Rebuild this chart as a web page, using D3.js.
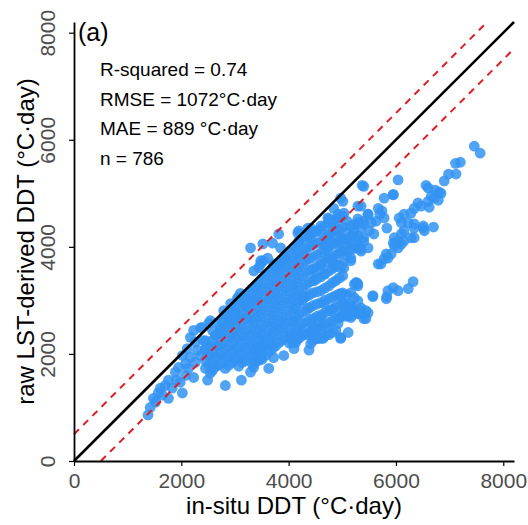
<!DOCTYPE html>
<html>
<head>
<meta charset="utf-8">
<script src="https://cdn.jsdelivr.net/npm/d3@7"></script>
<style>
  body { margin: 0; background: #fff; }
  svg { display: block; font-family: "Liberation Sans", Arial, sans-serif; }
</style>
</head>
<body>
<div id="chart"></div>
<script>
// (a) raw LST-derived DDT vs in-situ DDT
const xTicks = [0, 2000, 4000, 6000, 8000];
const yTicks = [0, 2000, 4000, 6000, 8000];
const stats = ["R-squared = 0.74", "RMSE = 1072°C·day", "MAE = 889 °C·day", "n = 786"];
const bandOffset = 500; // lignes rouges : 1:1 ± 500

// queue en bas à gauche
const tailPts = [
  [1380,860],[1420,1000],[1480,1170],[1570,1270],[1610,1360],[1700,1410],[1760,1510],[1760,1170],
  [1890,1660],[1950,1750],[2020,1270],[2080,1820],[2170,1940],[2300,2070],[2230,1560],[2490,1510],
  [2540,1640],[2170,2310],[2230,2440],[2360,2490],[2390,2490],[2510,2570],[2540,2620],[2790,2810],
  [2920,2940],[3100,3130],[3050,3050],[2820,1410],[3120,1510],[1520,1100],[1650,1230],[1830,1360],
  [1980,1470],[2080,1600],[1910,1510],[2130,1730],[2260,1840],[2360,1970],[2450,2100],[2020,1970],
  [2110,2100],[2260,2220],[2410,2250],[2640,2350],[2730,2470],[2880,2620],[3010,2770],[3200,2900],
  [3290,3000]
];

// bord supérieur, autour de la 1:1
const edgePts = [
  [3290,3980],[3520,4055],[3815,4240],[4170,4260],[4410,4350],[3440,3610],[3530,3740],[3700,4070],
  [3480,3680],[3350,3550],[3050,3030],
  [4190,4300],[4360,4350],[4600,4390],[4750,4520],[4920,4610],[5030,4630],[5290,4760],[5390,4480],
  [5480,4610],[5310,4020],[5250,3330],
  [3480,3740],[3610,3790],[3850,3980],[3910,3790],[3720,3680],
  [4190,4110],[4410,4170],[4540,4300],[4730,4200],[4840,4300],[4970,4170],[5100,4110],[5220,4300],
  [4730,3980],[4970,3920],[5160,3790],[4840,3680],[5030,3610],[4660,3500],[4470,3370]
];

// coeur dense du nuage
const corePts = [
  [2450,2250],[2450,2065],[2450,1880],[2450,1730],
  [2580,2440],[2580,2250],[2580,2030],[2580,1840],[2580,1690],
  [2690,2590],[2690,2380],[2690,2160],[2690,1970],[2690,1790],
  [2820,2720],[2820,2510],[2820,2290],[2820,2100],[2820,1920],[2820,1730],
  [2950,2810],[2950,2620],[2950,2400],[2950,2210],[2950,2030],[2950,1840],
  [3070,2960],[3070,2730],[3070,2530],[3070,2330],[3070,2120],[3070,1930],[3070,1770],
  [3200,3090],[3200,2880],[3200,2660],[3200,2440],[3200,2250],[3200,2070],[3200,1880],
  [3330,3220],[3330,3000],[3330,2770],[3330,2590],[3330,2360],[3330,2160],[3330,1970],[3330,1790],
  [3440,3330],[3440,3120],[3440,2900],[3440,2700],[3440,2470],[3440,2290],[3440,2070],[3440,1880],
  [3570,3460],[3570,3240],[3570,3030],[3570,2810],[3570,2590],[3570,2380],[3570,2190],[3570,1970],
  [3700,3590],[3700,3370],[3700,3140],[3700,2940],[3700,2720],[3700,2510],[3700,2310],[3700,2100],
  [3820,3700],[3820,3500],[3820,3270],[3820,3050],[3820,2850],[3820,2620],[3820,2440],[3820,2210],
  [3950,3830],[3950,3630],[3950,3400],[3950,3180],[3950,2960],[3950,2730],[3950,2530],[3950,2330],
  [4080,3960],[4080,3740],[4080,3520],[4080,3290],[4080,3070],[4080,2850],[4080,2620],[4080,2400],[4080,2210],
  [4190,4070],[4190,3850],[4190,3630],[4190,3400],[4190,3180],[4190,2960],[4190,2730],[4190,2510],[4190,2290],
  [4320,4190],[4320,3960],[4320,3740],[4320,3520],[4320,3290],[4320,3070],[4320,2810],[4320,2590],[4320,2360],
  [4450,4260],[4450,4040],[4450,3810],[4450,3590],[4450,3370],[4450,3140],[4450,2900],[4450,2660],[4450,2440],[4450,2250],
  [4600,4330],[4600,4110],[4600,3890],[4600,3660],[4600,3440],[4600,3180],[4600,2960],[4600,2730],[4600,2510],[4600,2290],
  [4750,4450],[4750,4220],[4750,4000],[4750,3780],[4750,3550],[4750,3270],[4750,3030],[4750,2810],[4750,2590],[4750,2360],
  [4880,4520],[4880,4300],[4880,4070],[4880,3850],[4880,3630],[4880,3370],[4880,3090],[4880,2880],[4880,2660],[4880,2440],
  [5010,4580],[5010,4370],[5010,4150],[5010,3920],[5010,3700],[5010,3460],[5010,3140],[5010,2940],[5010,2730],
  [5160,4390],[5160,4190],[5160,3960],[5160,3740],[5160,3140],[5160,2900],[5160,2720],
  [5290,4450],[5290,4200],[5290,3980],[5290,3270],[5290,2990],[5290,2770]
];

// points intercalés du coeur
const coreFillPts = [
  [2515,2160],[2515,1970],[2515,1790],
  [2635,2340],[2635,2140],[2635,1940],[2635,1760],
  [2755,2620],[2755,2400],[2755,2200],[2755,2010],[2755,1830],
  [2885,2760],[2885,2540],[2885,2330],[2885,2140],[2885,1960],[2885,1790],
  [3010,2880],[3010,2680],[3010,2480],[3010,2290],[3010,2090],[3010,1900],
  [3135,3020],[3135,2810],[3135,2610],[3135,2400],[3135,2200],[3135,2000],[3135,1840],
  [3265,3150],[3265,2940],[3265,2720],[3265,2530],[3265,2330],[3265,2140],[3265,1950],
  [3385,3270],[3385,3060],[3385,2850],[3385,2650],[3385,2440],[3385,2250],[3385,2040],[3385,1850],
  [3505,3400],[3505,3180],[3505,2960],[3505,2750],[3505,2540],[3505,2340],[3505,2120],[3505,1900],
  [3635,3520],[3635,3300],[3635,3090],[3635,2880],[3635,2660],[3635,2460],[3635,2260],[3635,2040],
  [3760,3640],[3760,3430],[3760,3210],[3760,3000],[3760,2780],[3760,2560],[3760,2360],[3760,2150],
  [3885,3760],[3885,3560],[3885,3330],[3885,3120],[3885,2900],[3885,2680],[3885,2480],[3885,2260],
  [4015,3900],[4015,3680],[4015,3460],[4015,3240],[4015,3020],[4015,2800],[4015,2590],[4015,2380],[4015,2200],
  [4135,4010],[4135,3790],[4135,3570],[4135,3340],[4135,3120],[4135,2900],[4135,2680],[4135,2460],[4135,2250],
  [4255,4120],[4255,3900],[4255,3680],[4255,3460],[4255,3230],[4255,3010],[4255,2780],[4255,2560],[4255,2340],
  [4385,4220],[4385,4000],[4385,3780],[4385,3560],[4385,3340],[4385,3100],[4385,2860],[4385,2630],[4385,2400],
  [4525,4290],[4525,4070],[4525,3850],[4525,3630],[4525,3400],[4525,3160],[4525,2930],[4525,2700],[4525,2470],[4525,2280],
  [4675,4390],[4675,4160],[4675,3940],[4675,3720],[4675,3490],[4675,3230],[4675,3000],[4675,2770],[4675,2550],[4675,2330],
  [4815,4480],[4815,4260],[4815,4040],[4815,3810],[4815,3590],[4815,3330],[4815,3060],[4815,2840],[4815,2620],[4815,2400],
  [4945,4550],[4945,4330],[4945,4110],[4945,3880],[4945,3660],[4945,3420],[4945,3120],[4945,2910],[4945,2700],
  [5085,4480],[5085,4280],[5085,4060],[5085,3840],[5085,3100],[5085,2880],[5085,2700],
  [5225,4420],[5225,4200],[5225,3970],[5225,3300],[5225,3050],[5225,2820]
];

// lobe inférieur
const lowerPts = [
  [5290,3310],[5570,3090],[4970,3090],[5110,2940],[5350,2860],[5480,2770],[5440,2660],[5160,2850],
  [5290,2750],[5030,2750],[4920,2570],[5110,2400],[4970,2290],[4730,2490],[4600,2440],[4540,2620],
  [4410,2570],[4280,2400],[4470,2310],[4640,2290],[4380,2070],[4100,2100],[4040,2290],[4130,2210],
  [3910,1970],[3720,1930],[3630,1730],[3480,1930],[3670,2190],[3530,2160],[3420,2120],[3350,1750],
  [3290,1660],
  [5270,3330],[5570,3070],[5830,3070],[5850,3180],[5950,3240],[6040,3180],[6230,3220],[6320,3350],
  [5820,3030],[4970,3120],[5030,2940],[5220,2810],[5350,2810],[5400,2660],[5160,2680],[4970,2680],
  [4970,2310],[4790,2810],[4660,2940],[4600,2680],[4470,2490],[4410,2190],[4540,2310],[4280,3050],
  [4360,2860],[5440,2810],[5350,2750]
];

// branche supérieure droite
const branchPts = [
  [7460,5880],[7570,5750],[7110,5560],[7200,5580],[7120,5360],[6980,5360],[6900,5230],
  [6560,5150],[6730,5060],[6810,5020],[6710,4910],[6790,4870],[6600,4850],[6620,4740],
  [6840,5000],[6660,4950],[6600,5100],[6040,5250],[5370,5150],
  [5950,4970],[5780,4910],[5670,4720],[5740,4670],[5780,4540],[5830,4350],[5700,4610],
  [5480,4610],[5350,4760],[5290,4520],[5010,4850],
  [6410,4820],[6470,4760],[6340,4720],[6280,4630],[6150,4610],[6060,4540],[6100,4450],[6230,4450],
  [6340,4430],[6510,4350],[6700,4370],[6280,4170],[6150,4300],[6100,4240],[6040,4110],[5970,4020],
  [5910,3870],[5850,3790],[5720,3680],[5670,3680],
  [5350,4350],[5500,4300],[5590,4240],[5400,4170],[5290,4050],[5350,3960],[5160,4050],
  [4840,4430],[4920,4300],[4970,4110],[5030,3920],[4790,4110],[4660,4050],[4730,3790],[4840,3680],
  [4970,3610],[4600,3680],[4470,3550],[4970,4910],[4840,4720],[4730,4540],
  [6510,4390],[6530,4300],[6340,4350],[6340,4170],[6150,4110],[5970,4170],[5950,4070],[6040,3980],
  [6100,4050],[5820,3870],[5780,3780],
  [5540,4450],[5630,4480],[5400,4430],[5400,4110],[5480,3980],[5350,3920],[5400,5130],[5950,4980]
];

const points = [...tailPts, ...corePts, ...coreFillPts, ...edgePts, ...lowerPts, ...branchPts];

const W = 528, H = 525;
const x = d3.scaleLinear().domain([0, 8200]).range([74, 514]);
const y = d3.scaleLinear().domain([0, 8200]).range([461, 22]);

const svg = d3.select("#chart").append("svg")
  .attr("width", W).attr("height", H);

// points
svg.append("g")
  .selectAll("circle")
  .data(points)
  .join("circle")
    .attr("cx", d => x(d[0]))
    .attr("cy", d => y(d[1]))
    .attr("r", 5.4)
    .attr("fill", "#3393F2")
    .attr("fill-opacity", 0.85);

// 1:1 et ± offset
const lineGen = d3.line().x(d => x(d[0])).y(d => y(d[1]));
svg.append("path")
  .attr("d", lineGen([[0, bandOffset], [8200 - bandOffset, 8200]]))
  .attr("stroke", "#DC1F26").attr("stroke-width", 2)
  .attr("stroke-dasharray", "7,6").attr("fill", "none");
svg.append("path")
  .attr("d", lineGen([[bandOffset, 0], [8200, 8200 - bandOffset]]))
  .attr("stroke", "#DC1F26").attr("stroke-width", 2)
  .attr("stroke-dasharray", "7,6").attr("fill", "none");
svg.append("path")
  .attr("d", lineGen([[0, 0], [8200, 8200]]))
  .attr("stroke", "#000").attr("stroke-width", 2.6).attr("fill", "none");

// axes
const xAxis = svg.append("g")
  .attr("transform", `translate(0,${y(0)})`)
  .call(d3.axisBottom(x).tickValues(xTicks).tickSize(5).tickSizeOuter(0).tickFormat(d3.format("d")));
const yAxis = svg.append("g")
  .attr("transform", `translate(${x(0)},0)`)
  .call(d3.axisLeft(y).tickValues(yTicks).tickSize(5).tickSizeOuter(0).tickFormat(d3.format("d")));

[xAxis, yAxis].forEach(g => {
  g.select(".domain").attr("stroke", "#000").attr("stroke-width", 1.8);
  g.selectAll(".tick line").attr("stroke", "#000").attr("stroke-width", 1.2);
  g.selectAll(".tick text").attr("fill", "#4D4D4D").attr("font-size", 21)
    .attr("font-family", "Liberation Sans, Arial, sans-serif");
});
xAxis.selectAll(".tick text").attr("y", 12);
yAxis.selectAll(".tick text")
  .attr("transform", "rotate(-90)")
  .attr("x", 0).attr("y", -19).attr("dy", 0)
  .attr("text-anchor", "middle");

// titres
svg.append("text")
  .attr("x", (x(0) + x(8200)) / 2).attr("y", 514)
  .attr("text-anchor", "middle").attr("font-size", 24).attr("fill", "#000")
  .text("in-situ DDT (°C·day)");
svg.append("text")
  .attr("transform", `translate(34,${(y(0) + y(8200)) / 2}) rotate(-90)`)
  .attr("text-anchor", "middle").attr("font-size", 24).attr("fill", "#000")
  .text("raw LST-derived DDT (°C·day)");

// étiquette + stats
svg.append("text")
  .attr("x", 78).attr("y", 41).attr("font-size", 25).attr("fill", "#000")
  .text("(a)");
svg.append("g")
  .selectAll("text")
  .data(stats)
  .join("text")
    .attr("x", 100)
    .attr("y", (d, i) => 76 + i * 29.5)
    .attr("font-size", 19).attr("fill", "#000")
    .text(d => d);
</script>
</body>
</html>
